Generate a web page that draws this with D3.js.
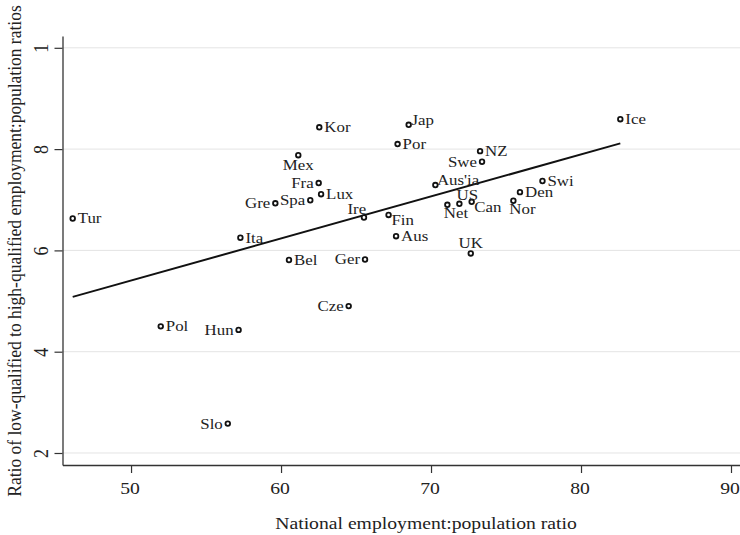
<!DOCTYPE html>
<html>
<head>
<meta charset="utf-8">
<script src="https://cdn.jsdelivr.net/npm/d3@7"></script>
<style>
  html, body { margin: 0; padding: 0; background: #fff; }
  svg { display: block; }
  text { font-family: "Liberation Serif", "Times New Roman", serif; fill: #222; }
</style>
</head>
<body>
<svg id="chart" width="740" height="535"></svg>
<script>
// OECD countries: national employment rate vs. relative employment of low- to high-qualified
const countries  = ["Tur","Ice","Kor","Jap","Por","Mex","Fra","Lux","Spa","Gre",
                    "Ire","Fin","Ita","Bel","Ger","Aus","UK","NZ","Swe","Aus'ia",
                    "Net","US","Can","Nor","Den","Swi","Cze","Hun","Pol","Slo"];
const employment = [46.11, 82.62, 62.55, 68.51, 67.77, 61.15, 62.51, 62.67, 61.95, 59.62,
                    65.53, 67.17, 57.29, 60.53, 65.60, 67.67, 72.65, 73.27, 73.40, 70.29,
                    71.09, 71.89, 72.71, 75.49, 75.93, 77.43, 64.51, 57.17, 51.98, 56.45];
const ratio      = [0.663, 0.859, 0.843, 0.848, 0.810, 0.788, 0.733, 0.711, 0.699, 0.693,
                    0.665, 0.670, 0.625, 0.581, 0.582, 0.628, 0.594, 0.796, 0.775, 0.729,
                    0.690, 0.692, 0.696, 0.698, 0.715, 0.737, 0.490, 0.443, 0.450, 0.258];

// linear fit of ratio on employment
const fitIntercept = 0.1254;
const fitSlope     = 0.008302;

// axis ticks
const xTicks      = [50, 60, 70, 80, 90];
const yTicks      = [0.2, 0.4, 0.6, 0.8, 1.0];
const yTickLabels = ["2", "4", "6", "8", "1"];

// marker-label placement, as clock positions around each point
const labelClock = {
  "Tur":3, "Ice":3, "Kor":3, "Jap":2, "Por":3, "Mex":6, "Fra":9, "Lux":3, "Spa":9, "Gre":9,
  "Ire":11, "Fin":4, "Ita":3, "Bel":3, "Ger":9, "Aus":3, "UK":12, "NZ":3, "Swe":9, "Aus'ia":2,
  "Net":5, "US":1, "Can":4, "Nor":5, "Den":3, "Swi":3, "Cze":9, "Hun":9, "Pol":3, "Slo":9
};

const SX = 1.125;            // horizontal widening of the serif type
const svg = d3.select("#chart");

const plot = { left: 62.5, right: 740, top: 36, bottom: 465 };

const x = d3.scaleLinear().domain([45.43, 90.6]).range([plot.left, plot.right]);
const y = d3.scaleLinear().domain([0.1763, 1.0233]).range([plot.bottom, plot.top]);

// horizontal grid lines
svg.append("g").selectAll("line").data(yTicks).join("line")
  .attr("x1", plot.left).attr("x2", plot.right)
  .attr("y1", d => y(d)).attr("y2", d => y(d))
  .attr("stroke", "#e4e4e4").attr("stroke-width", 1);

// x axis
const gx = svg.append("g")
  .attr("transform", `translate(0,${plot.bottom})`)
  .call(d3.axisBottom(x).tickValues(xTicks).tickSize(8).tickSizeOuter(0).tickFormat(d3.format("d")));
gx.select(".domain").attr("stroke", "#333").attr("stroke-width", 1.3);
gx.selectAll(".tick line").attr("stroke", "#333").attr("stroke-width", 1.2);
gx.selectAll(".tick text")
  .attr("y", 0).attr("dy", null)
  .attr("font-size", 17.5)
  .attr("font-family", "Liberation Serif, serif")
  .attr("fill", "#222")
  .attr("transform", `translate(-1.5,29) scale(${SX},1)`);

// y axis
const gy = svg.append("g")
  .attr("transform", `translate(${plot.left},0)`)
  .call(d3.axisLeft(y).tickValues(yTicks).tickSize(8).tickSizeOuter(0)
        .tickFormat((d, i) => yTickLabels[i]));
gy.select(".domain").attr("stroke", "#333").attr("stroke-width", 1.3);
gy.selectAll(".tick line").attr("stroke", "#333").attr("stroke-width", 1.2);
gy.selectAll(".tick text")
  .attr("x", 0).attr("y", 0).attr("dy", null)
  .attr("text-anchor", "middle")
  .attr("font-size", 18)
  .attr("font-family", "Liberation Serif, serif")
  .attr("fill", "#222")
  .attr("transform", `translate(-15,0) scale(${SX},1) rotate(-90)`);

// axis titles
svg.append("text")
  .attr("text-anchor", "middle")
  .attr("font-size", 17.5)
  .attr("transform", `translate(426,529) scale(${SX},1)`)
  .text("National employment:population ratio");

svg.append("text")
  .attr("text-anchor", "middle")
  .attr("font-size", 17.5)
  .attr("transform", `translate(21,251) scale(${SX},1) rotate(-90)`)
  .text("Ratio of low-qualified to high-qualified employment:population ratios");

// fitted line across the observed range
const [xmin, xmax] = d3.extent(employment);
const fitPts = [xmin, xmax].map(v => [v, fitIntercept + fitSlope * v]);
svg.append("path")
  .datum(fitPts)
  .attr("d", d3.line().x(d => x(d[0])).y(d => y(d[1])))
  .attr("fill", "none").attr("stroke", "#111").attr("stroke-width", 2);

// points
const pts = countries.map((c, i) => ({ name: c, ex: employment[i], r: ratio[i] }));
svg.append("g").selectAll("circle").data(pts).join("circle")
  .attr("cx", d => x(d.ex)).attr("cy", d => y(d.r))
  .attr("r", 2.3)
  .attr("fill", "#fff").attr("stroke", "#111").attr("stroke-width", 1.8);

// point labels
const LABEL_SIZE = 15, GAP = 5, CAP = 0.66 * LABEL_SIZE;
const lg = svg.append("g");
pts.forEach(d => {
  const t = lg.append("text")
    .attr("font-size", LABEL_SIZE)
    .attr("text-anchor", "middle")
    .text(d.name);
  const w = t.node().getComputedTextLength() * SX;
  const pos = labelClock[d.name];
  const a = pos * Math.PI / 6;
  const ux = Math.sin(a), uy = -Math.cos(a);
  const cx = x(d.ex) + ux * (GAP + w / 2);
  const cy = y(d.r) + uy * (GAP + CAP / 2);
  t.attr("transform", `translate(${cx},${cy + CAP / 2}) scale(${SX},1)`);
});
</script>
</body>
</html>
